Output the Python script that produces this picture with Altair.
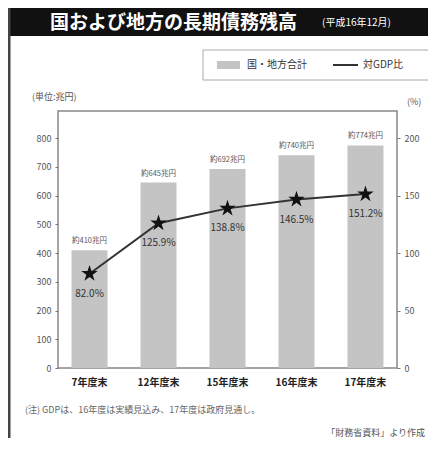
import altair as alt
import pandas as pd

FONT = "Noto Sans CJK JP"

categories = ["7年度末", "12年度末", "15年度末", "16年度末", "17年度末"]
debt = [410, 645, 692, 740, 774]
debt_labels = ["約410兆円", "約645兆円", "約692兆円", "約740兆円", "約774兆円"]
gdp_ratio = [82.0, 125.9, 138.8, 146.5, 151.2]
ratio_labels = ["82.0%", "125.9%", "138.8%", "146.5%", "151.2%"]
left_ticks = [0, 100, 200, 300, 400, 500, 600, 700, 800]
right_ticks = [0, 50, 100, 150, 200]

df = pd.DataFrame({
    "cat": categories,
    "debt": debt,
    "debt_label": debt_labels,
    "ratio": gdp_ratio,
    "ratio_label": ratio_labels,
})
one = pd.DataFrame({"a": [0]})

W, H = 339, 257
LMAX = 257 / 230 * 800
RMAX = LMAX / 4

xscale = alt.Scale(domain=categories, paddingInner=0.478, paddingOuter=0.196)
xaxis = alt.Axis(title=None, labelAngle=0, labelFontWeight="bold",
                 labelFontSize=10, labelColor="#222", ticks=False,
                 domain=False, labelPadding=9, labelFont=FONT)
X = alt.X("cat:N", sort=categories, scale=xscale, axis=xaxis)
base = alt.Chart(df)

lscale = alt.Scale(domain=[0, LMAX], nice=False)
laxis = alt.Axis(title=None, values=left_ticks, orient="left", grid=False,
                 domain=False, tickSize=3, tickColor="#777", labelOverlap=False,
                 labelFontSize=9, labelColor="#555", labelPadding=4,
                 labelFont=FONT, labelBound=False, labelFlush=False)
YL = alt.Y("debt:Q", scale=lscale, axis=laxis)

bars = base.mark_bar(color="#c4c4c4").encode(x=X, y=YL)
bar_text = base.mark_text(fontSize=7.5, color="#555", dy=-9, font=FONT).encode(
    x=X, y=YL, text="debt_label:N")
left = alt.layer(bars, bar_text)

rscale = alt.Scale(domain=[0, RMAX], nice=False)
raxis = alt.Axis(title=None, values=right_ticks, orient="right", grid=False,
                 domain=False, tickSize=3, tickColor="#777", labelOverlap=False,
                 labelFontSize=9, labelColor="#555", labelPadding=4,
                 labelFont=FONT, labelBound=False, labelFlush=False)
YR = alt.Y("ratio:Q", scale=rscale, axis=raxis)

line = base.mark_line(color="#333", strokeWidth=2).encode(x=X, y=YR)
STAR = "M0,-1L0.2245,-0.309L0.951,-0.309L0.363,0.118L0.588,0.809L0,0.382L-0.588,0.809L-0.363,0.118L-0.951,-0.309L-0.2245,-0.309Z"
stars = base.mark_point(shape=STAR, size=300, filled=True, color="#111", opacity=1).encode(
    x=X, y=YR)
ratio_text = base.mark_text(fontSize=10, color="#333", dy=20, font=FONT).encode(
    x=X, y=YR, text="ratio_label:N")
right = alt.layer(line, stars, ratio_text)


def txt(s, x, y, size=9, color="#444", align="left", weight="normal"):
    return alt.Chart(one).mark_text(text=s, fontSize=size, color=color, align=align,
                                    baseline="middle", fontWeight=weight, font=FONT).encode(
        x=alt.value(x), y=alt.value(y))


title_bar = alt.Chart(one).mark_rect(color="#111").encode(
    x=alt.value(-50), x2=alt.value(374), y=alt.value(-103), y2=alt.value(-75))
border = alt.Chart(one).mark_rule(color="#444", strokeWidth=3).encode(
    x=alt.value(-49), y=alt.value(-103), y2=alt.value(340))
legend_box = alt.Chart(one).mark_rect(fill="white", stroke="#aaa", strokeWidth=1).encode(
    x=alt.value(145), x2=alt.value(372), y=alt.value(-61), y2=alt.value(-31))
legend_sw = alt.Chart(one).mark_rect(color="#c4c4c4").encode(
    x=alt.value(159), x2=alt.value(182), y=alt.value(-50), y2=alt.value(-42))
legend_ln = alt.Chart(one).mark_rule(color="#333", strokeWidth=2).encode(
    x=alt.value(275), x2=alt.value(300), y=alt.value(-46))

deco = alt.layer(
    title_bar, border, legend_box, legend_sw, legend_ln,
    txt("国および地方の長期債務残高", -8, -88, size=19, color="white", weight="bold"),
    txt("(平成16年12月)", 264, -88, size=10, color="white"),
    txt("国・地方合計", 189, -46, size=10, color="#333"),
    txt("対GDP比", 305, -46, size=10, color="#333"),
    txt("(単位:兆円)", -26, -14, size=9, color="#555"),
    txt("(%)", 349, -9, size=9, color="#555"),
    txt("(注) GDPは、16年度は実績見込み、17年度は政府見通し。", -33, 299, size=9, color="#666"),
    txt("「財務省資料」より作成", 367, 322, size=9, color="#555", align="right"),
)

chart = alt.layer(left, right, deco).resolve_scale(y="independent").properties(
    width=W, height=H,
    autosize=alt.AutoSizeParams(type="none"),
    padding={"left": 50, "top": 103, "right": 31, "bottom": 70},
    background="white",
).configure_view(stroke="#888", strokeWidth=1.5)

chart.save("out.html", embed_options={"renderer": "svg", "actions": False})
